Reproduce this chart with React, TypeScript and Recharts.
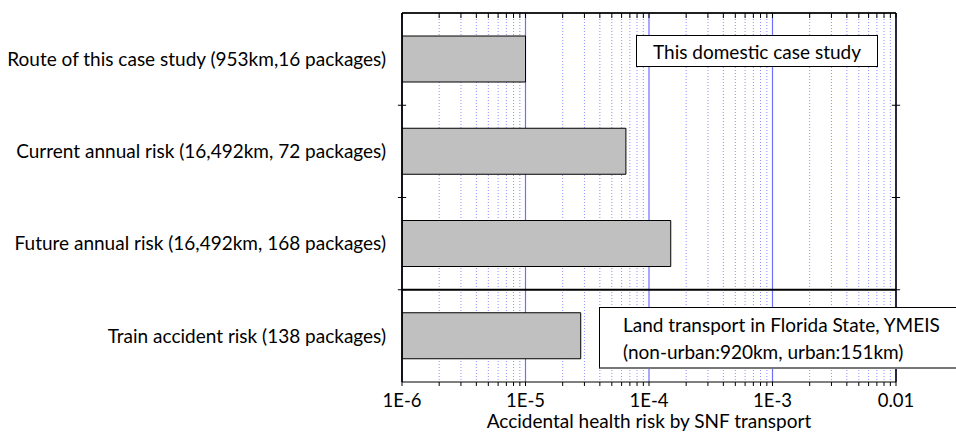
import { BarChart, Bar, XAxis, YAxis, CartesianGrid, ReferenceLine } from 'recharts';

const categories = [
    'Route of this case study (953km,16 packages)',
    'Current annual risk (16,492km, 72 packages)',
    'Future annual risk (16,492km, 168 packages)',
    'Train accident risk (138 packages)',
];
const risks = [1.0e-5, 6.5e-5, 1.5e-4, 2.8e-5];

const majorTicks = [1e-6, 1e-5, 1e-4, 1e-3, 1e-2];
const majorLabels = ['1E-6', '1E-5', '1E-4', '1E-3', '0.01'];
const minorSteps = [2, 3, 4, 5, 6, 7, 8, 9];

const minorTicks = majorTicks.slice(0, -1).flatMap((d) => minorSteps.map((m) => d * m));
const allTicks = [...majorTicks, ...minorTicks].sort((a, b) => a - b);

const chartData = categories.map((name, i) => ({ name, risk: risks[i] }));

const FONT = 'Lato, "Open Sans", sans-serif';

const labelFor = (v: number) => {
    const i = majorTicks.findIndex((t) => Math.abs(t - v) / t < 1e-6);
    return i >= 0 ? majorLabels[i] : '';
};

const logAxis = {
    type: 'number' as const,
    scale: 'log' as const,
    domain: [1e-6, 1e-2],
    allowDataOverflow: true,
    interval: 0 as const,
};

// little "+" ticks at the band edges, on the left and right frame
const edgeTick = (name: string, x: number, key: string) => (
    <ReferenceLine
        key={key}
        segment={[{ x: x / 1.08, y: name }, { x: x * 1.08, y: name }]}
        position="start"
        ifOverflow="visible"
        stroke="#000"
    />
);

export default function App() {
    return (
        <div style={{ position: 'absolute', left: 0, top: 0, width: 956, height: 432, overflow: 'hidden', background: '#fff', fontFamily: FONT }}>
            <BarChart
                width={956}
                height={432}
                data={chartData}
                layout="vertical"
                barSize={46}
                margin={{ top: 13, right: 60, bottom: 0, left: 0 }}
            >
                {/* dotted minor grid */}
                <CartesianGrid horizontal={false} xAxisId="minor" stroke="#8f8fff" strokeDasharray="1 2" />
                {/* solid decade lines */}
                <CartesianGrid horizontal={false} xAxisId="major" stroke="#6e6eff" strokeWidth={1.2} />

                <XAxis
                    {...logAxis}
                    ticks={allTicks}
                    tickFormatter={labelFor}
                    tickSize={4}
                    tickMargin={8}
                    height={50}
                    stroke="#000"
                    tick={{ fill: '#000', fontSize: 18.5, fontFamily: FONT }}
                    label={{ value: 'Accidental health risk by SNF transport', position: 'insideBottom', offset: 4, fill: '#000', fontSize: 19, fontFamily: FONT }}
                />
                <XAxis
                    {...logAxis}
                    xAxisId="top"
                    orientation="top"
                    ticks={allTicks}
                    tickFormatter={() => ''}
                    mirror
                    tickSize={5}
                    height={1}
                    stroke="#000"
                />
                <XAxis {...logAxis} xAxisId="minor" ticks={minorTicks} hide />
                <XAxis {...logAxis} xAxisId="major" ticks={majorTicks.slice(1, -1)} hide />

                <YAxis
                    type="category"
                    dataKey="name"
                    width={402}
                    tickLine={false}
                    tickMargin={10}
                    stroke="#000"
                    tick={{ fill: '#000', fontSize: 19, fontFamily: FONT }}
                />
                <YAxis
                    yAxisId="right"
                    type="category"
                    dataKey="name"
                    orientation="right"
                    tickFormatter={() => ''}
                    mirror
                    tickSize={5}
                    width={0}
                    stroke="#000"
                />

                {/* black frame */}
                <ReferenceLine x={majorTicks[0]} stroke="#000" strokeWidth={1.5} />
                <ReferenceLine x={majorTicks[majorTicks.length - 1]} stroke="#000" strokeWidth={1.5} />
                <ReferenceLine y={categories[0]} position="start" stroke="#000" strokeWidth={1.5} />

                {categories.slice(1).map((c) => edgeTick(c, 1e-6, 'l' + c))}
                {categories.slice(1).map((c) => edgeTick(c, 1e-2, 'r' + c))}

                <Bar dataKey="risk" fill="#c0c0c0" stroke="#000" strokeWidth={1} isAnimationActive={false} />

                {/* separator between truck and train cases */}
                <ReferenceLine y={categories[3]} position="start" stroke="#000" strokeWidth={2} />
            </BarChart>

            <div style={{
                position: 'absolute', left: 636, top: 35, width: 240, height: 30,
                border: '1px solid #000', background: '#fff', fontSize: 19,
                display: 'flex', alignItems: 'center', justifyContent: 'center', color: '#000',
            }}>
                This domestic case study
            </div>
            <div style={{
                position: 'absolute', left: 599, top: 307, width: 400, height: 62,
                borderTop: '1px solid #000', borderLeft: '1px solid #000', borderBottom: '2px solid #777',
                background: '#fff', fontSize: 19, color: '#000', paddingLeft: 23, boxSizing: 'border-box',
                lineHeight: '27px', paddingTop: 3,
            }}>
                <div>Land transport in Florida State, YMEIS</div>
                <div>(non-urban:920km, urban:151km)</div>
            </div>
        </div>
    );
}
